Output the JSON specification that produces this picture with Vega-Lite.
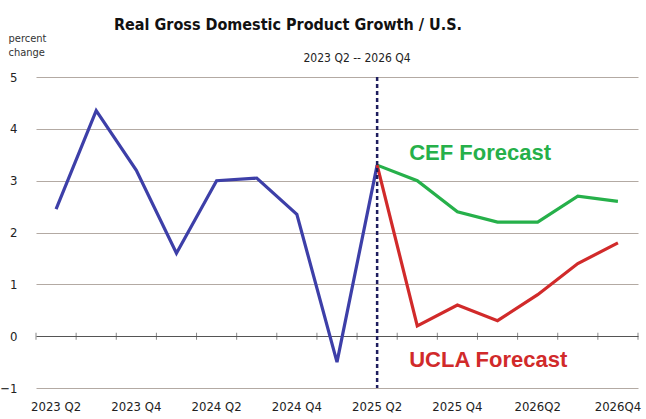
{
  "$schema": "https://vega.github.io/schema/vega-lite/v6.json",
  "width": 602,
  "height": 311,
  "autosize": {"type": "none"},
  "padding": {"left": 36, "top": 77, "right": 8, "bottom": 31},
  "background": "white",
  "config": {
    "view": {"stroke": null},
    "font": "DejaVu Sans Condensed"
  },
  "title": {
    "text": "Real Gross Domestic Product Growth / U.S.",
    "font": "DejaVu Sans Condensed",
    "fontSize": 16,
    "fontWeight": "bold",
    "color": "#111111",
    "anchor": "middle",
    "frame": "group",
    "dx": -49,
    "offset": -1
  },
  "datasets": {
    "gdp": [
      {"q": "2023 Q2", "v": 2.45, "s": "Actual"},
      {"q": "2023 Q3", "v": 4.35, "s": "Actual"},
      {"q": "2023 Q4", "v": 3.2, "s": "Actual"},
      {"q": "2024 Q1", "v": 1.6, "s": "Actual"},
      {"q": "2024 Q2", "v": 3.0, "s": "Actual"},
      {"q": "2024 Q3", "v": 3.05, "s": "Actual"},
      {"q": "2024 Q4", "v": 2.35, "s": "Actual"},
      {"q": "2025 Q1", "v": -0.5, "s": "Actual"},
      {"q": "2025 Q2", "v": 3.3, "s": "Actual"},
      {"q": "2025 Q2", "v": 3.3, "s": "CEF"},
      {"q": "2025 Q3", "v": 3.0, "s": "CEF"},
      {"q": "2025 Q4", "v": 2.4, "s": "CEF"},
      {"q": "2026Q1", "v": 2.2, "s": "CEF"},
      {"q": "2026Q2", "v": 2.2, "s": "CEF"},
      {"q": "2026Q3", "v": 2.7, "s": "CEF"},
      {"q": "2026Q4", "v": 2.6, "s": "CEF"},
      {"q": "2025 Q2", "v": 3.3, "s": "UCLA"},
      {"q": "2025 Q3", "v": 0.2, "s": "UCLA"},
      {"q": "2025 Q4", "v": 0.6, "s": "UCLA"},
      {"q": "2026Q1", "v": 0.3, "s": "UCLA"},
      {"q": "2026Q2", "v": 0.8, "s": "UCLA"},
      {"q": "2026Q3", "v": 1.4, "s": "UCLA"},
      {"q": "2026Q4", "v": 1.8, "s": "UCLA"}
    ],
    "quarters": [
      {"q": "2023 Q2"}, {"q": "2023 Q3"}, {"q": "2023 Q4"}, {"q": "2024 Q1"},
      {"q": "2024 Q2"}, {"q": "2024 Q3"}, {"q": "2024 Q4"}, {"q": "2025 Q1"},
      {"q": "2025 Q2"}, {"q": "2025 Q3"}, {"q": "2025 Q4"}, {"q": "2026Q1"},
      {"q": "2026Q2"}, {"q": "2026Q3"}, {"q": "2026Q4"}
    ],
    "notes": [
      {"q": "2025 Q3", "v": 3.54, "s": "CEF", "label": "CEF Forecast"},
      {"q": "2025 Q3", "v": -0.46, "s": "UCLA", "label": "UCLA Forecast"}
    ],
    "sub": [
      {"q": "2025 Q2", "v": 5.37, "label": "2023 Q2  -- 2026 Q4"}
    ],
    "split": [
      {"q": "2025 Q2"}
    ]
  },
  "layer": [
    {
      "data": {"name": "quarters"},
      "mark": {"type": "tick", "orient": "vertical", "size": 7, "thickness": 1, "color": "#555555"},
      "encoding": {
        "x": {
          "field": "q", "type": "nominal", "bandPosition": 0,
          "sort": ["2023 Q2","2023 Q3","2023 Q4","2024 Q1","2024 Q2","2024 Q3","2024 Q4","2025 Q1","2025 Q2","2025 Q3","2025 Q4","2026Q1","2026Q2","2026Q3","2026Q4"],
          "scale": {"type": "band", "paddingInner": 0, "paddingOuter": 0},
          "axis": {
            "title": null,
            "values": ["2023 Q2","2023 Q4","2024 Q2","2024 Q4","2025 Q2","2025 Q4","2026Q2","2026Q4"],
            "ticks": false,
            "domain": false,
            "labelAngle": 0,
            "labelFont": "DejaVu Sans Condensed",
            "labelFontSize": 13,
            "labelColor": "#222222",
            "labelPadding": 12
          }
        },
        "y": {
          "datum": 0, "type": "quantitative",
          "scale": {"domain": [-1, 5], "nice": false, "zero": false},
          "axis": {
            "values": [-1, 0, 1, 2, 3, 4, 5],
            "grid": true,
            "gridColor": {"condition": {"test": "datum.value === 0", "value": "#555555"}, "value": "#b3aaa3"},
            "gridWidth": 1.2,
            "ticks": false,
            "domain": false,
            "labelFont": "DejaVu Sans Condensed",
            "labelFontSize": 13,
            "labelColor": "#222222",
            "labelPadding": 19,
            "title": ["percent", "change"],
            "titleFont": "DejaVu Sans Condensed",
            "titleFontSize": 11,
            "titleFontWeight": "normal",
            "titleColor": "#333333",
            "titleAngle": 0,
            "titleAlign": "left",
            "titleBaseline": "alphabetic",
            "titleLineHeight": 14,
            "titleX": -28,
            "titleY": -36
          }
        }
      }
    },
    {
      "data": {"name": "quarters"},
      "transform": [{"filter": "datum.q === '2026Q4'"}],
      "mark": {"type": "tick", "orient": "vertical", "size": 7, "thickness": 1, "color": "#555555"},
      "encoding": {
        "x": {"field": "q", "type": "nominal", "bandPosition": 1},
        "y": {"datum": 0, "type": "quantitative"}
      }
    },
    {
      "data": {"name": "gdp"},
      "mark": {"type": "line", "strokeWidth": 3.2, "strokeJoin": "miter"},
      "encoding": {
        "x": {"field": "q", "type": "nominal", "bandPosition": 0.5},
        "y": {"field": "v", "type": "quantitative"},
        "color": {
          "field": "s", "type": "nominal",
          "scale": {"domain": ["Actual", "CEF", "UCLA"], "range": ["#3d3fa8", "#26b04a", "#d12a2a"]},
          "legend": null
        }
      }
    },
    {
      "data": {"name": "split"},
      "mark": {"type": "rule", "strokeDash": [4, 3], "strokeWidth": 2.5, "color": "#1e1d5e"},
      "encoding": {
        "x": {"field": "q", "type": "nominal", "bandPosition": 0.5}
      }
    },
    {
      "data": {"name": "notes"},
      "mark": {"type": "text", "align": "left", "baseline": "middle", "font": "Liberation Sans", "fontSize": 22, "fontWeight": "bold", "dx": 12},
      "encoding": {
        "x": {"field": "q", "type": "nominal", "bandPosition": 0},
        "y": {"field": "v", "type": "quantitative"},
        "text": {"field": "label"},
        "color": {"field": "s", "type": "nominal", "legend": null}
      }
    },
    {
      "data": {"name": "sub"},
      "mark": {"type": "text", "align": "center", "baseline": "middle", "font": "DejaVu Sans Condensed", "fontSize": 12, "color": "#222222"},
      "encoding": {
        "x": {"field": "q", "type": "nominal", "bandPosition": 0},
        "y": {"field": "v", "type": "quantitative"},
        "text": {"field": "label"}
      }
    }
  ]
}
